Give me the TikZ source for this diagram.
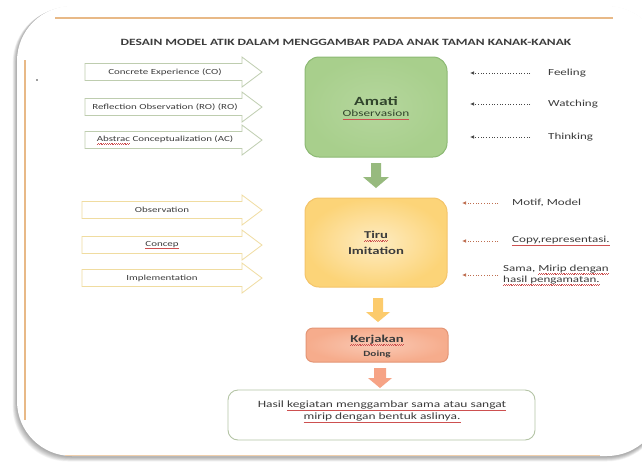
\documentclass[tikz,border=0pt]{standalone}
\usepackage{fontspec}
\setmainfont{Carlito}[FakeStretch=1.4]
\usetikzlibrary{arrows.meta}
\definecolor{wavec}{RGB}{205,80,80}
\definecolor{txt}{RGB}{60,60,60}
\definecolor{orl}{RGB}{232,185,135}
\definecolor{gfill}{RGB}{168,207,140}
\definecolor{gdraw}{RGB}{140,185,115}
\definecolor{yfill}{RGB}{252,212,120}
\definecolor{ydraw}{RGB}{244,196,105}
\definecolor{sfill}{RGB}{246,172,140}
\definecolor{sdraw}{RGB}{228,150,118}
\definecolor{garr}{RGB}{190,205,175}
\definecolor{yarr}{RGB}{240,220,160}
\definecolor{rbox}{RGB}{180,196,165}
\definecolor{darr}{RGB}{70,70,70}
\definecolor{barr}{RGB}{190,110,80}
\newsavebox\rwbox
\newcommand\rw[1]{\sbox\rwbox{#1}\rlap{\usebox\rwbox}{\color{wavec}\xleaders\hbox{\rule[-2.9pt]{0.9pt}{0.5pt}\rule[-2.3pt]{0.9pt}{0.5pt}}\hskip\wd\rwbox}}
\newcommand\blockarr[4]{% y, colour, xstart, xbodyend
  \draw[#2, line width=0.8pt, fill=white] (#3,#1-8.5) -- (#4,#1-8.5) -- (#4,#1-15) -- (262,#1)
    -- (#4,#1+15) -- (#4,#1+8.5) -- (#3,#1+8.5) -- cycle;}
\begin{document}
\begin{tikzpicture}[x=1pt,y=-1pt,
  lbl/.style={text=txt, inner sep=0pt},
  arrtxt/.style={lbl, font=\fontsize{7.8}{9}\selectfont},
  sidetxt/.style={lbl, anchor=west, font=\fontsize{9.3}{11}\selectfont},
  dotarr/.style={darr, line width=0.7pt, dotted, -{Latex[length=4pt,width=3.5pt]}},
  dotarrb/.style={barr, line width=0.7pt, dotted, -{Latex[length=4pt,width=3.5pt]}},
  box/.style={rounded corners=14pt, line width=1pt}]
\useasboundingbox (0,0) rectangle (642,461);
\fill[white] (0,0) rectangle (642,461);
% page shadow
\foreach \d in {0,1,...,9}{
  \fill[black, opacity=0.035, rounded corners=55pt]
    ({17-4.5+\d*0.45},{6+2-\d*0.2}) rectangle ({662},{456+5.5-\d*0.5});
}
\fill[white, rounded corners=55pt] (17,6) rectangle (662,456);
% orange frame lines
\draw[orl, line width=1.4pt] (55,18) -- (613,18);
\draw[orl, line width=1.2pt] (25,60) -- (25,420);
\draw[orl!70, line width=1pt] (65,455) -- (600,455);
% title
\node[lbl, font=\fontsize{9.6}{12}\selectfont\bfseries] (title) at (346,42)
  {DESAIN MODEL ATIK DALAM MENGGAMBAR PADA ANAK TAMAN KANAK-KANAK};
\fill[txt] (37,80) circle (0.9pt);
% left block arrows, group 1
\blockarr{72}{garr}{85}{242}
\blockarr{107}{garr}{85}{242}
\blockarr{140}{garr}{85}{242}
\node[arrtxt] (c1) at (165,72) {Concrete Experience (CO)};
\node[arrtxt] (c2) at (165,107) {Reflection Observation (RO) (RO)};
\node[arrtxt] (c3) at (165,140) {\rw{Abstrac} Conceptualization (AC)};
% Amati box
\draw[box, gdraw, inner color=gfill!85, outer color=gfill] (305,57) rectangle (447,157);
\node[lbl, text={rgb,255:red,50;green,70;blue,45}, font=\fontsize{12.5}{14}\selectfont\bfseries] (amati) at (376,101) {Amati};
\node[lbl, text={rgb,255:red,50;green,70;blue,45}, font=\fontsize{9.5}{11}\selectfont] (obs) at (376,115) {\rw{Observasion}};
% right labels, group 1
\coordinate (f0) at (530,73); \coordinate (f1) at (470,73);
\coordinate (w0) at (530,104); \coordinate (w1) at (470,104);
\coordinate (t0) at (530,137); \coordinate (t1) at (470,137);
\draw[dotarr] (f0) -- (f1);
\draw[dotarr] (w0) -- (w1);
\draw[dotarr] (t0) -- (t1);
\node[sidetxt] (feel) at (548,73) {Feeling};
\node[sidetxt] (watch) at (548,104) {Watching};
\node[sidetxt] (think) at (548,137) {Thinking};
% green down arrow
\fill[gfill!90!black] (371,163) -- (381,163) -- (381,177) -- (389,177) -- (376,188) -- (363,177) -- (371,177) -- cycle;
% left block arrows, group 2
\blockarr{210}{yarr}{82}{242}
\blockarr{245}{yarr}{82}{242}
\blockarr{278}{yarr}{82}{242}
\node[arrtxt] (o1) at (162,210) {Observation};
\node[arrtxt] (o2) at (162,245) {\rw{Concep}};
\node[arrtxt] (o3) at (162,278) {Implementation};
% Tiru box
\draw[box, ydraw, inner color=yfill!45, outer color=yfill] (305,198) rectangle (447,287);
\node[lbl, font=\fontsize{10.5}{12}\selectfont\bfseries] (tiru) at (376,236) {\rw{Tiru}};
\node[lbl, font=\fontsize{10.5}{12}\selectfont\bfseries] (imit) at (376,251) {Imitation};
% right labels, group 2
\coordinate (m0) at (498,203); \coordinate (m1) at (462,203);
\coordinate (r0) at (498,241); \coordinate (r1) at (462,241);
\coordinate (s0) at (498,275); \coordinate (s1) at (462,275);
\draw[dotarrb] (m0) -- (m1);
\draw[dotarrb] (r0) -- (r1);
\draw[dotarrb] (s0) -- (s1);
\node[sidetxt] (motif) at (512,203) {Motif, Model};
\node[sidetxt] (copy) at (512,241) {\rw{Copy,representasi.}};
\node[sidetxt, align=left] (sama) at (503,275) {Sama, \rw{Mirip dengan}\\\rw{hasil pengamatan.}};
% yellow down arrow
\fill[yfill!90!orange] (373,298) -- (383,298) -- (383,312) -- (390,312) -- (378,322) -- (366,312) -- (373,312) -- cycle;
% Kerjakan box
\draw[rounded corners=7pt, line width=1pt, sdraw, inner color=sfill!65, outer color=sfill] (306,328) rectangle (448,362);
\node[lbl, font=\fontsize{10.5}{12}\selectfont\bfseries] (kerja) at (377,340) {\rw{Kerjakan}};
\node[lbl, font=\fontsize{8}{10}\selectfont\bfseries] (doing) at (377,354) {Doing};
% salmon down arrow
\fill[sfill!95!red] (374,368) -- (386,368) -- (386,378) -- (392,378) -- (380,388) -- (368,378) -- (374,378) -- cycle;
% result box
\draw[rounded corners=10pt, line width=0.9pt, rbox, fill=white] (228,390) rectangle (535,440);
\node[lbl, font=\fontsize{9.6}{12}\selectfont, align=center] (hasil) at (382,412)
  {Hasil \rw{kegiatan menggambar sama atau sangat}\\\rw{mirip dengan bentuk aslinya.}};
\end{tikzpicture}
\end{document}
